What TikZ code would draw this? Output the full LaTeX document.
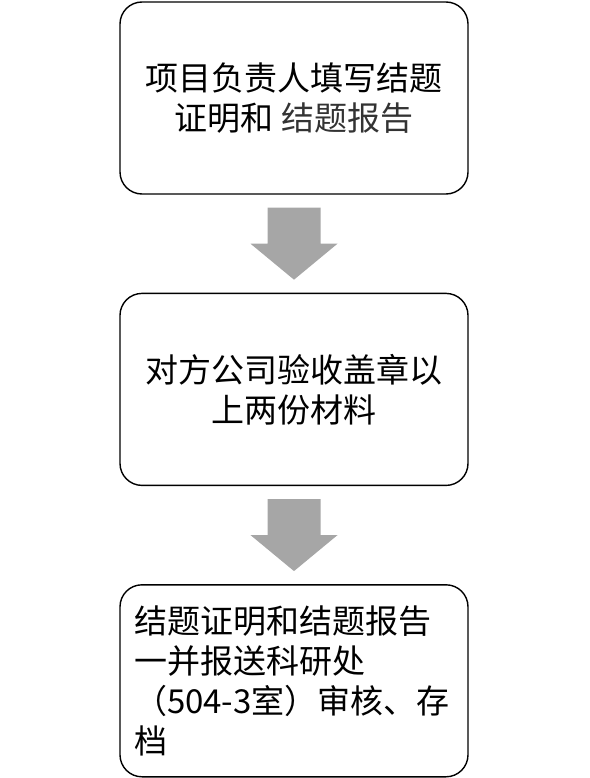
\documentclass[tikz,border=0pt]{standalone}
\usepackage{fontspec}
\setmainfont{Noto Sans CJK SC}
\usetikzlibrary{positioning,calc}
\definecolor{arrgray}{HTML}{A6A6A6}

\begin{document}
\begin{tikzpicture}[
  box/.style={draw, line width=1.4pt, rounded corners=22pt, minimum width=348pt, minimum height=192pt,
    inner sep=0pt, align=center, font=\fontsize{33pt}{40pt}\selectfont},
  blockarr/.style={fill=arrgray},
  node distance=98pt
]
\useasboundingbox (0,0) rectangle (589pt,-778pt);

% boxes
\node[box] (report) at (294pt,-98pt) {项目负责人填写结题\\证明和 \textcolor{black!80}{结题报告}};
\node[box, below=of report] (check) {对方公司验收盖章以\\上两份材料};
\node[box, below=of check, align=left, text width=320pt] (submit)
  {结题证明和结题报告\\一并报送科研处\\（504-3室）审核、存\\档};

% block arrows
\foreach \a/\b in {report/check, check/submit} {
  \path (\a.south) -- (\b.north) coordinate[pos=0.5] (m);
  \fill[blockarr] ($(m)+(-26.5pt,36pt)$) -- ($(m)+(26.5pt,36pt)$) -- ($(m)+(26.5pt,0pt)$)
    -- ($(m)+(43.5pt,0pt)$) -- ($(m)+(0pt,-36pt)$) -- ($(m)+(-43.5pt,0pt)$)
    -- ($(m)+(-26.5pt,0pt)$) -- cycle;
}

\end{tikzpicture}
\end{document}
